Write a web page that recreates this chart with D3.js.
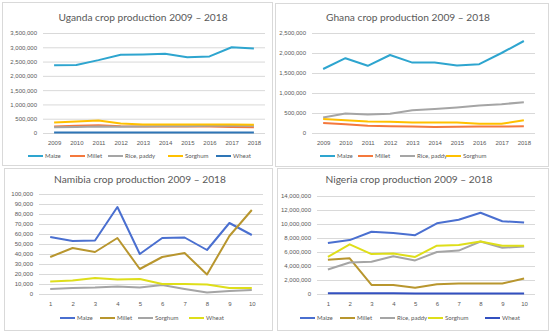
<!DOCTYPE html>
<html>
<head>
<meta charset="utf-8">
<script src="https://cdn.jsdelivr.net/npm/d3@7"></script>
<style>
  body { margin: 0; background: #fff; }
  svg { display: block; font-family: Lato, "Open Sans", sans-serif; }
</style>
</head>
<body>
<svg id="chart" width="550" height="334"></svg>
<script>
// values
const years = ['2009', '2010', '2011', '2012', '2013', '2014', '2015', '2016', '2017', '2018'];
const steps = ['1', '2', '3', '4', '5', '6', '7', '8', '9', '10'];

const ugandaMaize = [2370000, 2380000, 2550000, 2740000, 2750000, 2770000, 2650000, 2680000, 3000000, 2960000];
const ugandaMillet = [230000, 250000, 270000, 240000, 230000, 230000, 230000, 230000, 210000, 200000];
const ugandaRice = [200000, 210000, 230000, 220000, 230000, 240000, 240000, 250000, 250000, 250000];
const ugandaSorghum = [370000, 400000, 440000, 330000, 300000, 300000, 300000, 300000, 300000, 290000];
const ugandaWheat = [20000, 20000, 20000, 20000, 20000, 20000, 20000, 20000, 20000, 20000];
const ugandaTicks = [0, 500000, 1000000, 1500000, 2000000, 2500000, 3000000, 3500000];

const ghanaMaize = [1600000, 1870000, 1680000, 1950000, 1760000, 1760000, 1690000, 1720000, 2000000, 2300000];
const ghanaMillet = [250000, 220000, 180000, 170000, 160000, 150000, 155000, 160000, 160000, 170000];
const ghanaRice = [390000, 490000, 460000, 480000, 570000, 600000, 640000, 690000, 720000, 770000];
const ghanaSorghum = [350000, 320000, 290000, 280000, 260000, 260000, 260000, 230000, 230000, 320000];
const ghanaTicks = [0, 500000, 1000000, 1500000, 2000000, 2500000];

const namibiaMaize = [57000, 53000, 53500, 87000, 40000, 56000, 56500, 44000, 71000, 59000];
const namibiaMillet = [37000, 46000, 42000, 56000, 25000, 37000, 41000, 19500, 58000, 84000];
const namibiaSorghum = [5000, 6000, 6500, 7500, 6500, 9000, 5000, 1500, 3000, 4000];
const namibiaWheat = [12500, 13500, 16000, 14500, 15000, 10000, 10000, 9500, 6000, 6000];
const namibiaTicks = [0, 10000, 20000, 30000, 40000, 50000, 60000, 70000, 80000, 90000, 100000];

const nigeriaMaize = [7300000, 7700000, 8900000, 8700000, 8400000, 10100000, 10600000, 11600000, 10400000, 10200000];
const nigeriaMillet = [4900000, 5100000, 1300000, 1300000, 900000, 1400000, 1500000, 1500000, 1500000, 2200000];
const nigeriaRice = [3500000, 4500000, 4600000, 5400000, 4800000, 6000000, 6200000, 7500000, 6600000, 6800000];
const nigeriaSorghum = [5300000, 7100000, 5700000, 5800000, 5300000, 6900000, 7000000, 7500000, 6900000, 6900000];
const nigeriaWheat = [100000, 100000, 100000, 100000, 60000, 60000, 60000, 60000, 60000, 60000];
const nigeriaTicks = [0, 2000000, 4000000, 6000000, 8000000, 10000000, 12000000, 14000000];

const svg = d3.select('#chart');
const fmt = d3.format(',');
const textColor = '#595959';

function drawPanel(p) {
  const g = svg.append('g');

  g.append('rect')
    .attr('x', p.box[0] + 0.5).attr('y', p.box[1] + 0.5)
    .attr('width', p.box[2] - p.box[0]).attr('height', p.box[3] - p.box[1])
    .attr('fill', '#fff').attr('stroke', '#d9d9d9');

  g.append('text')
    .attr('x', p.titleX).attr('y', p.titleY)
    .attr('text-anchor', 'middle')
    .attr('font-size', 10.2)
    .attr('fill', textColor)
    .text(p.title);

  const x = d3.scalePoint()
    .domain(p.cats)
    .range([p.plot[0], p.plot[1]])
    .padding(0.5);

  const y = d3.scaleLinear()
    .domain([0, d3.max(p.ticks)])
    .range([p.plot[3], p.plot[2]]);

  const yAxis = d3.axisLeft(y).tickValues(p.ticks).tickFormat(fmt)
    .tickSize(-(p.plot[1] - p.plot[0])).tickPadding(6);

  g.append('g')
    .attr('transform', `translate(${p.plot[0]},0)`)
    .call(yAxis)
    .call(a => a.select('.domain').remove())
    .call(a => a.selectAll('.tick line').attr('stroke', '#d9d9d9'))
    .call(a => a.selectAll('.tick text').attr('fill', textColor)
      .attr('font-size', 6).attr('font-family', null));

  g.append('g')
    .attr('transform', `translate(0,${p.plot[3]})`)
    .call(d3.axisBottom(x).tickSize(0).tickPadding(8))
    .call(a => a.select('.domain').remove())
    .call(a => a.selectAll('.tick text').attr('fill', textColor)
      .attr('font-size', 6).attr('font-family', null));

  const line = d3.line()
    .x((d, i) => x(p.cats[i]))
    .y(d => y(d));

  p.series.forEach(s => {
    g.append('path')
      .datum(s.values)
      .attr('fill', 'none')
      .attr('stroke', s.color)
      .attr('stroke-width', 2)
      .attr('stroke-linejoin', 'round')
      .attr('d', line);
  });

  // legend
  const legend = g.append('g').attr('transform', `translate(0,${p.legendY})`);
  p.series.forEach((s, i) => {
    const lx = p.legendX[i];
    legend.append('line')
      .attr('x1', lx).attr('x2', lx + 15)
      .attr('stroke', s.color).attr('stroke-width', 2);
    legend.append('text')
      .attr('x', lx + 17).attr('y', 2.2)
      .attr('font-size', 6)
      .attr('fill', textColor)
      .text(s.name);
  });
}

drawPanel({
  title: 'Uganda crop production  2009 \u2013 2018',
  box: [2, 2, 272, 165], titleX: 143, titleY: 21,
  plot: [43, 265, 33, 133],
  cats: years, ticks: ugandaTicks,
  legendY: 156, legendX: [28, 70, 108, 168, 216],
  series: [
    { name: 'Maize', values: ugandaMaize, color: '#2ea5cf' },
    { name: 'Millet', values: ugandaMillet, color: '#f4783c' },
    { name: 'Rice, paddy', values: ugandaRice, color: '#a5a5a5' },
    { name: 'Sorghum', values: ugandaSorghum, color: '#ffc000' },
    { name: 'Wheat', values: ugandaWheat, color: '#2e75b6' }
  ]
});

drawPanel({
  title: 'Ghana crop production 2009 \u2013 2018',
  box: [275, 3, 548, 166], titleX: 408, titleY: 21,
  plot: [312, 535, 33, 133],
  cats: years, ticks: ghanaTicks,
  legendY: 156, legendX: [320, 358, 400, 446],
  series: [
    { name: 'Maize', values: ghanaMaize, color: '#2ea5cf' },
    { name: 'Millet', values: ghanaMillet, color: '#f4783c' },
    { name: 'Rice, paddy', values: ghanaRice, color: '#a5a5a5' },
    { name: 'Sorghum', values: ghanaSorghum, color: '#ffc000' }
  ]
});

drawPanel({
  title: 'Namibia crop production 2009 \u2013 2018',
  box: [4, 168, 272, 330], titleX: 140, titleY: 183,
  plot: [39, 263, 194, 294],
  cats: steps, ticks: namibiaTicks,
  legendY: 318, legendX: [60, 100, 138, 189],
  series: [
    { name: 'Maize', values: namibiaMaize, color: '#4a6fd0' },
    { name: 'Millet', values: namibiaMillet, color: '#b8962e' },
    { name: 'Sorghum', values: namibiaSorghum, color: '#a5a5a5' },
    { name: 'Wheat', values: namibiaWheat, color: '#dede1a' }
  ]
});

drawPanel({
  title: 'Nigeria crop production 2009 \u2013 2018',
  box: [277, 168, 548, 330], titleX: 409, titleY: 183,
  plot: [317, 535, 196, 294],
  cats: steps, ticks: nigeriaTicks,
  legendY: 318, legendX: [300, 340, 380, 428, 485],
  series: [
    { name: 'Maize', values: nigeriaMaize, color: '#4a6fd0' },
    { name: 'Millet', values: nigeriaMillet, color: '#b8962e' },
    { name: 'Rice, paddy', values: nigeriaRice, color: '#a5a5a5' },
    { name: 'Sorghum', values: nigeriaSorghum, color: '#dede1a' },
    { name: 'Wheat', values: nigeriaWheat, color: '#3350c0' }
  ]
});
</script>
</body>
</html>
